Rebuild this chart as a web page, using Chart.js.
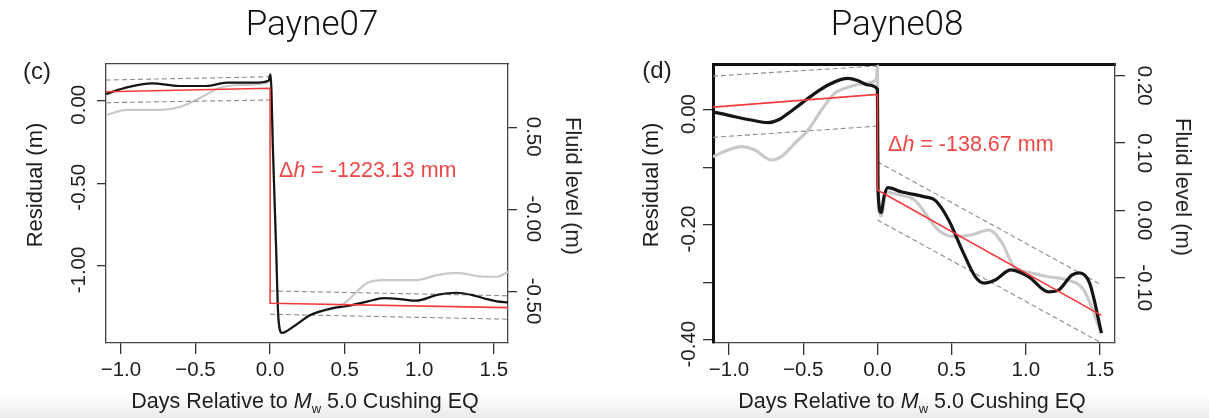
<!DOCTYPE html>
<html>
<head>
<meta charset="utf-8">
<script src="https://cdn.jsdelivr.net/npm/chart.js@4.4.0/dist/chart.umd.min.js"></script>
<style>
html,body{margin:0;padding:0;background:#fff;}
body{width:1209px;height:418px;position:relative;overflow:hidden;font-family:"Liberation Sans",Arial,sans-serif;color:#1e1e1e;}
.shade{position:absolute;left:0;right:0;bottom:0;height:24px;background:linear-gradient(rgba(236,236,236,0),#ebebeb);}
.panel{position:absolute;top:0;height:418px;}
.panel canvas{display:block;}
.t{position:absolute;white-space:nowrap;line-height:1;transform:translate(-50%,-50%);}
.title{font-family:Roboto,"Liberation Sans",sans-serif;font-weight:300;font-size:35px;color:#111;}
.xt{font-size:21.5px;}
.xt .sub{font-size:13px;position:relative;top:5px;}
.yl{font-size:22px;transform:translate(-50%,-50%) rotate(-90deg);}
.yr{font-size:22px;transform:translate(-50%,-50%) rotate(90deg);}
.lab{font-size:24px;}
.dh{position:absolute;font-size:21.5px;line-height:1;color:#f04646;white-space:nowrap;transform:translateY(-50%);}
</style>
</head>
<body>
<div class="shade"></div>
<div class="panel" style="left:0;width:604px"><canvas id="c1" width="604" height="418"></canvas></div>
<div class="panel" style="left:604px;width:605px"><canvas id="c2" width="605" height="418"></canvas></div>

<div class="t title" style="left:312px;top:23px">Payne07</div>
<div class="t title" style="left:897px;top:23px">Payne08</div>
<div class="t lab" style="left:37px;top:71px">(c)</div>
<div class="t lab" style="left:657px;top:70px">(d)</div>
<div class="t yl" style="left:35px;top:185px">Residual (m)</div>
<div class="t yl" style="left:651px;top:185px">Residual (m)</div>
<div class="t yr" style="left:573px;top:186px">Fluid level (m)</div>
<div class="t yr" style="left:1183px;top:187px">Fluid level (m)</div>
<div class="t xt" style="left:305px;top:402px">Days Relative to <i>M</i><span class="sub">w</span> 5.0 Cushing EQ</div>
<div class="t xt" style="left:912px;top:402px">Days Relative to <i>M</i><span class="sub">w</span> 5.0 Cushing EQ</div>
<div class="dh" style="left:279px;top:171px">Δ<i>h</i> = -1223.13 mm</div>
<div class="dh" style="left:888px;top:145px">Δ<i>h</i> = -138.67 mm</div>

<script>
// ---------- shared x axis ----------
const xTickValues = [-1.0, -0.5, 0.0, 0.5, 1.0, 1.5];
const xTickLabels = ['\u22121.0', '\u22120.5', '0.0', '0.5', '1.0', '1.5'];

// ---------- Payne07 ----------
const p07ResidualTicks = [0.0, -0.5, -1.0];
const p07ResidualTickLabels = ['0.00', '-0.50', '-1.00'];
const p07FluidTicks = [0.5, 0.0, -0.5];
const p07FluidTickLabels = ['0.50', '-0.00', '-0.50'];

const p07ResDays = [-1.1, -0.96, -0.79, -0.61, -0.43, -0.29, -0.11, -0.01, 0.003, 0.02, 0.04, 0.056, 0.08, 0.156, 0.27, 0.42, 0.5, 0.65, 0.76, 0.87, 0.98, 1.12, 1.25, 1.35, 1.43, 1.52, 1.595];
const p07Residual = [0.041, 0.081, 0.105, 0.089, 0.089, 0.109, 0.109, 0.121, 0.16, -0.32, -0.88, -1.32, -1.405, -1.367, -1.297, -1.255, -1.245, -1.216, -1.195, -1.2, -1.21, -1.175, -1.162, -1.175, -1.195, -1.214, -1.22];

const p07FluidDays = [-1.1, -0.96, -0.74, -0.6, -0.47, -0.34, -0.2, -0.02, 0.003, 0.02, 0.04, 0.056, 0.08, 0.156, 0.27, 0.42, 0.5, 0.65, 0.76, 0.98, 1.12, 1.25, 1.43, 1.52, 1.595];
const p07Fluid = [0.577, 0.608, 0.608, 0.628, 0.681, 0.742, 0.760, 0.772, 0.80, 0.342, -0.221, -0.664, -0.75, -0.711, -0.641, -0.60, -0.567, -0.445, -0.427, -0.427, -0.397, -0.383, -0.407, -0.407, -0.376];

const p07FitDays = [-1.1, 0.0, 0.0, 1.595];
const p07Fit = [0.054, 0.075, -1.226, -1.252];

const p07BandDays = [-1.1, 0.0, 0.0, 0.0, 1.595];
const p07BandUpper = [0.125, 0.145, null, -1.151, -1.18];
const p07BandLower = [-0.012, 0.004, null, -1.292, -1.322];

// ---------- Payne08 ----------
const p08ResidualTicks = [0.0, -0.1, -0.2, -0.3, -0.4];
const p08ResidualTickLabels = ['0.00', '', '-0.20', '', '-0.40'];
const p08FluidTicks = [0.2, 0.1, 0.0, -0.1];
const p08FluidTickLabels = ['0.20', '0.10', '0.00', '-0.10'];

const p08ResDays = [-1.108, -0.961, -0.849, -0.737, -0.669, -0.602, -0.512, -0.422, -0.332, -0.243, -0.198, -0.13, -0.063, 0.0, 0.004, 0.025, 0.045, 0.07, 0.16, 0.32, 0.39, 0.48, 0.57, 0.66, 0.72, 0.79, 0.9, 1.02, 1.15, 1.22, 1.31, 1.36, 1.43, 1.51];
const p08Residual = [-0.003, -0.0116, -0.0174, -0.022, -0.0174, -0.0058, 0.0116, 0.029, 0.0435, 0.0533, 0.055, 0.051, 0.0435, 0.036, -0.139, -0.178, -0.15, -0.135, -0.142, -0.151, -0.157, -0.191, -0.243, -0.29, -0.301, -0.296, -0.278, -0.29, -0.316, -0.313, -0.287, -0.283, -0.301, -0.388];

const p08FluidDays = [-1.108, -1.006, -0.916, -0.827, -0.714, -0.647, -0.557, -0.467, -0.377, -0.288, -0.198, -0.086, -0.007, 0.0, 0.002, 0.01, 0.025, 0.06, 0.15, 0.25, 0.41, 0.52, 0.63, 0.75, 0.84, 0.92, 1.04, 1.15, 1.28, 1.39, 1.51];
const p08Fluid = [0.0798, 0.0897, 0.0946, 0.0897, 0.0749, 0.0798, 0.0997, 0.1194, 0.149, 0.174, 0.1828, 0.1888, 0.1947, 0.214, 0.07, 0.0, -0.008, 0.027, 0.023, 0.0154, -0.0291, -0.039, -0.0365, -0.0291, -0.0484, -0.0836, -0.093, -0.0985, -0.1034, -0.1182, -0.182];

const p08FitDays = [-1.108, 0.0, 0.0, 1.51];
const p08Fit = [0.005, 0.027, -0.139, -0.357];

const p08BandDays = [-1.108, 0.0, 0.0, 0.0, 1.51];
const p08BandUpper = [0.059, 0.0765, null, -0.09, -0.304];
const p08BandLower = [-0.0475, -0.028, null, -0.191, -0.405];

// ---------- rendering ----------
const FONT = '"Liberation Sans", Arial, sans-serif';
const TICK_SIZE = 20.5;
Chart.defaults.font.family = FONT;

const pts = (xs, ys) => xs.map((x, i) => ({ x: x, y: ys[i] }));

function widest(labels) {
  const ctx = document.createElement('canvas').getContext('2d');
  ctx.font = TICK_SIZE + 'px ' + FONT;
  return Math.max.apply(null, labels.map(l => ctx.measureText(l).width));
}

function makeChart(id, o) {
  const H = 418;
  const tickFont = { family: FONT, size: TICK_SIZE };
  const yPad = (o.area.left - o.yTickLen - widest(o.yLabels) / 2) - o.yLabelX;
  const y2Pad = o.y2LabelX - o.area.right - o.y2TickLen - widest(o.y2Labels) / 2;
  const tickGrid = (len) => ({ display: true, drawOnChartArea: false, drawTicks: true, tickLength: len, color: '#333', lineWidth: 1.3 });

  return new Chart(document.getElementById(id), {
    type: 'scatter',
    data: {
      datasets: [
        { data: pts(o.fluidDays, o.fluid), yAxisID: 'y2', xAxisID: 'x', showLine: true, pointRadius: 0,
          borderColor: '#c9c9c9', borderWidth: o.grayWidth, cubicInterpolationMode: 'monotone', order: 4 },
        { data: pts(o.bandDays, o.bandUpper), yAxisID: 'y', xAxisID: 'x', showLine: true, pointRadius: 0,
          borderColor: '#8c8c8c', borderWidth: 1.1, borderDash: [5, 3], tension: 0, order: 3 },
        { data: pts(o.bandDays, o.bandLower), yAxisID: 'y', xAxisID: 'x', showLine: true, pointRadius: 0,
          borderColor: '#8c8c8c', borderWidth: 1.1, borderDash: [5, 3], tension: 0, order: 3 },
        { data: pts(o.resDays, o.residual), yAxisID: 'y', xAxisID: 'x', showLine: true, pointRadius: 0,
          borderColor: '#151515', borderWidth: o.blackWidth, cubicInterpolationMode: 'monotone', order: 2 },
        { data: pts(o.fitDays, o.fit), yAxisID: 'y', xAxisID: 'x', showLine: true, pointRadius: 0,
          borderColor: '#f23a3a', borderWidth: 1.6, tension: 0, order: 1 }
      ]
    },
    options: {
      responsive: false,
      animation: false,
      events: [],
      layout: { padding: { left: 0, right: 0, top: o.area.top, bottom: 0 } },
      plugins: { legend: { display: false }, tooltip: { enabled: false } },
      scales: {
        x: {
          type: 'linear', axis: 'x', position: 'bottom', min: o.xMin, max: o.xMax,
          afterBuildTicks: s => { s.ticks = xTickValues.map(v => ({ value: v })); },
          afterFit: s => { s.height = H - o.area.bottom; },
          ticks: { callback: (v, i) => xTickLabels[i], font: tickFont, color: '#1e1e1e', padding: o.xPad,
                   autoSkip: false, minRotation: 0, maxRotation: 0 },
          grid: tickGrid(o.xTickLen),
          border: { display: true, color: '#444', width: 1.3 }
        },
        xTop: {
          type: 'linear', axis: 'x', position: 'top', min: o.xMin, max: o.xMax,
          afterFit: s => { s.height = 0; },
          ticks: { display: false },
          grid: { display: false },
          border: { display: true, color: o.topColor, width: o.topWidth }
        },
        y: {
          type: 'linear', axis: 'y', position: 'left', min: o.yMin, max: o.yMax,
          afterBuildTicks: s => { s.ticks = o.yTicks.map(v => ({ value: v })); },
          afterFit: s => { s.width = o.area.left; },
          ticks: { callback: (v, i) => o.yLabels[i], font: tickFont, color: '#1e1e1e', autoSkip: false,
                   minRotation: 90, maxRotation: 90, crossAlign: 'center', padding: yPad, labelOffset: o.yLabelOffset },
          grid: tickGrid(o.yTickLen),
          border: { display: true, color: o.leftColor, width: o.leftWidth }
        },
        y2: {
          type: 'linear', axis: 'y', position: 'right', min: o.y2Min, max: o.y2Max,
          afterBuildTicks: s => { s.ticks = o.y2Ticks.map(v => ({ value: v })); },
          afterFit: s => { s.width = o.width - o.area.right; },
          ticks: { callback: (v, i) => o.y2Labels[i], font: tickFont, color: '#1e1e1e', autoSkip: false,
                   minRotation: -90, maxRotation: -90, crossAlign: 'center', padding: y2Pad, labelOffset: o.y2LabelOffset },
          grid: tickGrid(o.y2TickLen),
          border: { display: true, color: '#444', width: 1.3 }
        }
      }
    }
  });
}

makeChart('c1', {
  width: 604, area: { left: 106, right: 508, top: 64, bottom: 343 },
  xMin: -1.1, xMax: 1.595, yMin: -1.466, yMax: 0.222, y2Min: -0.81, y2Max: 0.8877,
  yTicks: p07ResidualTicks, yLabels: p07ResidualTickLabels,
  y2Ticks: p07FluidTicks, y2Labels: p07FluidTickLabels,
  yTickLen: 9, y2TickLen: 9, xTickLen: 11, xPad: 4,
  yLabelX: 79.5, y2LabelX: 532.5, yLabelOffset: 4, y2LabelOffset: 9,
  leftColor: '#444', leftWidth: 1.3, topColor: '#444', topWidth: 1.3,
  blackWidth: 2.2, grayWidth: 2.2,
  resDays: p07ResDays, residual: p07Residual, fluidDays: p07FluidDays, fluid: p07Fluid,
  fitDays: p07FitDays, fit: p07Fit, bandDays: p07BandDays, bandUpper: p07BandUpper, bandLower: p07BandLower
});

makeChart('c2', {
  width: 605, area: { left: 109, right: 511, top: 64, bottom: 343 },
  xMin: -1.108, xMax: 1.601, yMin: -0.405, yMax: 0.08, y2Min: -0.197, y2Max: 0.2175,
  yTicks: p08ResidualTicks, yLabels: p08ResidualTickLabels,
  y2Ticks: p08FluidTicks, y2Labels: p08FluidTickLabels,
  yTickLen: 10, y2TickLen: 10, xTickLen: 12, xPad: 3,
  yLabelX: 85.5, y2LabelX: 540, yLabelOffset: 4, y2LabelOffset: 10,
  leftColor: '#111', leftWidth: 3, topColor: '#111', topWidth: 3,
  blackWidth: 3.2, grayWidth: 3.2,
  resDays: p08ResDays, residual: p08Residual, fluidDays: p08FluidDays, fluid: p08Fluid,
  fitDays: p08FitDays, fit: p08Fit, bandDays: p08BandDays, bandUpper: p08BandUpper, bandLower: p08BandLower
});
</script>
</body>
</html>
